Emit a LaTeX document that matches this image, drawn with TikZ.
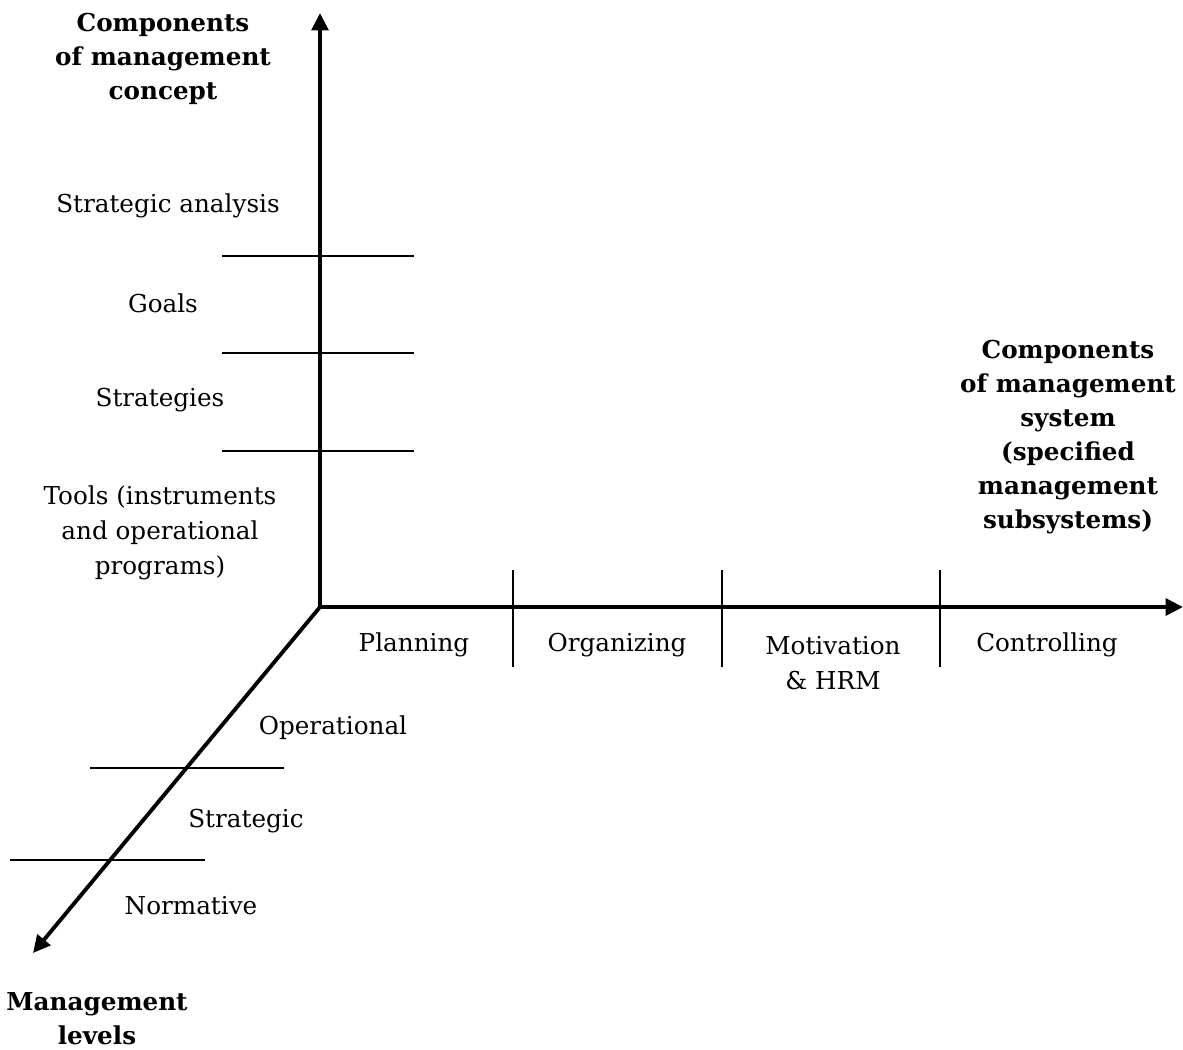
\documentclass[tikz,border=0pt]{standalone}
\usepackage{fontspec}
\setmainfont{DejaVu Serif}
\usetikzlibrary{arrows.meta}
\tikzstyle{MGaxis}=[line width=2.9pt, -{Triangle[length=13pt,width=12.5pt]}]
\tikzstyle{MGtick}=[line width=1.3pt]
\tikzstyle{MGlabel}=[align=center, inner sep=0pt, font=\fontsize{18.5}{26}\selectfont]
\tikzstyle{MGtitle}=[MGlabel, font=\fontsize{18.5}{25.5}\selectfont\bfseries]

\begin{document}
\begin{tikzpicture}[x=0.75pt, y=-0.75pt]
    \path [use as bounding box] (0,0) rectangle (1183,1050);
    \coordinate (origin) at (320,607);
    \coordinate (concepttip) at (320,13);
    \coordinate (systemtip) at (1183,607);
    \coordinate (leveltip) at (33,953);
    \draw [MGaxis] (origin) -- (concepttip);
    \draw [MGaxis] (origin) -- (systemtip);
    \draw [MGaxis] (origin) -- (leveltip);
    \foreach \y in {256,353,451}
        \draw [MGtick] (222,\y) -- (414,\y);
    \foreach \x in {513,722,940}
        \draw [MGtick] (\x,570) -- (\x,667);
    \draw [MGtick] (90,768) -- (284,768);
    \draw [MGtick] (10,860) -- (205,860);
    \node [MGtitle] (concepttitle) at (163,59) {Components\\of management\\concept};
    \node [MGlabel] (analysis) at (168,206) {Strategic analysis};
    \node [MGlabel] (goals) at (163,303) {Goals};
    \node [MGlabel] (strategies) at (160,400) {Strategies};
    \node [MGlabel] (tools) at (160,533) {Tools (instruments\\and operational\\programs)};
    \node [MGtitle] (systemtitle) at (1068,437) {Components\\of management\\system\\(specified\\management\\subsystems)};
    \node [MGlabel] (planning) at (414,645) {Planning};
    \node [MGlabel] (organizing) at (617,645) {Organizing};
    \node [MGlabel] (motivation) at (833,663) {Motivation\\\& HRM};
    \node [MGlabel] (controlling) at (1047,645) {Controlling};
    \node [MGlabel] (operational) at (333,728) {Operational};
    \node [MGlabel] (strategic) at (246,821) {Strategic};
    \node [MGlabel] (normative) at (191,906) {Normative};
    \node [MGtitle] (leveltitle) at (97,1019) {Management\\levels};
\end{tikzpicture}
\end{document}
